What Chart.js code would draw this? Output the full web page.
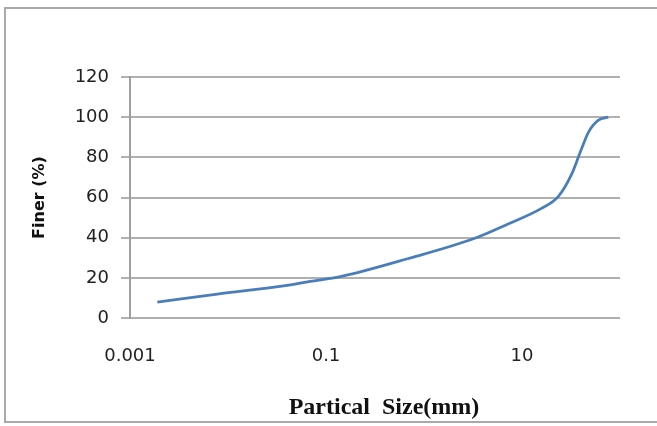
<!DOCTYPE html>
<html>
<head>
<meta charset="utf-8">
<script src="https://cdn.jsdelivr.net/npm/chart.js@4.4.1/dist/chart.umd.min.js"></script>
<style>
  html, body { margin: 0; padding: 0; background: #fff; }
  #wrap { position: relative; width: 657px; height: 426px; overflow: hidden; }
  #frame {
    position: absolute; left: 4px; top: 7px; width: 660px; height: 416px;
    border: 2px solid #a9a9a9; box-sizing: border-box;
  }
  #chart { position: absolute; left: 0; top: 0; }
</style>
</head>
<body>
<div id="wrap">
  <div id="frame"></div>
  <canvas id="chart" width="657" height="426"></canvas>
</div>
<script>
// particle size (mm) and percent finer
const sizes = [0.0019, 0.0078, 0.037, 0.069, 0.14, 0.68, 3.3, 7.2, 15.8, 23.4, 32.4, 38.9, 47.9, 60.3, 75.9];
const finer = [7.9, 11.9, 16.0, 18.2, 20.6, 29.5, 39.7, 46.8, 54.6, 60.4, 72, 82, 92.7, 98.5, 100];

const xTicks = [0.001, 0.1, 10];
const yTicks = [0, 20, 40, 60, 80, 100, 120];

const points = sizes.map((s, i) => ({ x: s, y: finer[i] }));

const ctx = document.getElementById('chart');
// the reference labels are stretched wide, spread the letters a bit
ctx.getContext('2d').letterSpacing = '1px';

new Chart(ctx, {
  type: 'line',
  data: {
    datasets: [{
      data: points,
      borderColor: '#4a7ebb',
      borderWidth: 2.75,
      pointRadius: 0,
      cubicInterpolationMode: 'monotone',
      fill: false
    }]
  },
  options: {
    responsive: false,
    animation: false,
    layout: { padding: { left: 26, top: 77, right: 37, bottom: 0 } },
    plugins: {
      legend: { display: false },
      tooltip: { enabled: false }
    },
    scales: {
      x: {
        type: 'logarithmic',
        min: 0.001,
        max: 100,
        afterBuildTicks: (scale) => {
          scale.ticks = xTicks.map(v => ({ value: v }));
        },
        afterFit: (scale) => { scale.height = 108; },
        grid: { display: false },
        border: { display: false },
        ticks: {
          color: '#222',
          font: { family: 'DejaVu Sans', size: 18 },
          padding: 20,
          maxRotation: 0,
          autoSkip: false,
          callback: (v) => String(v)
        },
        title: {
          display: true,
          text: '\u00a0\u00a0\u00a0Partical  Size(mm)',
          color: '#111',
          font: { family: 'Liberation Serif', size: 24, weight: 'bold' },
          padding: { top: 27 }
        }
      },
      y: {
        min: 0,
        max: 120,
        afterBuildTicks: (scale) => {
          scale.ticks = yTicks.map(v => ({ value: v }));
        },
        afterFit: (scale) => { scale.width = 104; },
        grid: {
          color: '#b0b0b0',
          lineWidth: 2,
          tickLength: 9
        },
        border: { display: true, color: '#a0a0a0', width: 2 },
        ticks: {
          color: '#222',
          font: { family: 'DejaVu Sans', size: 18 },
          padding: 12
        },
        title: {
          display: true,
          text: 'Finer (%)',
          color: '#111',
          font: { family: 'DejaVu Sans', size: 16, weight: 'bold' },
          padding: { bottom: 4 }
        }
      }
    }
  }
});
</script>
</body>
</html>
